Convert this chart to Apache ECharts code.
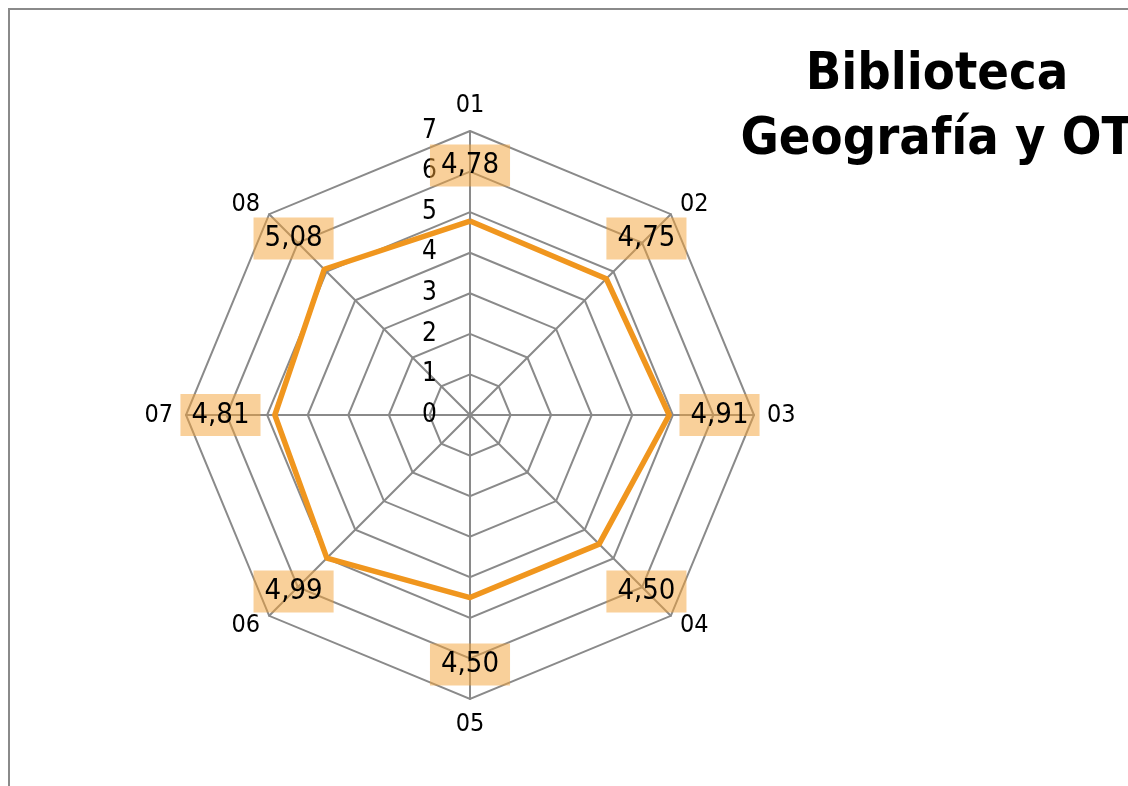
<!DOCTYPE html>
<html>
<head>
<meta charset="utf-8">
<script src="https://cdn.jsdelivr.net/npm/echarts@6/dist/echarts.min.js"></script>
<style>
html,body{margin:0;padding:0;background:#fff;}
#chart{width:1128px;height:786px;}
</style>
</head>
<body>
<div id="chart"></div>
<script>
var categories = ['01', '02', '03', '04', '05', '06', '07', '08'];
var values = [4.78, 4.75, 4.91, 4.50, 4.50, 4.99, 4.81, 5.08];
var tickLabels = ['0', '1', '2', '3', '4', '5', '6', '7'];
var axisMax = 7;
var titleText = 'Biblioteca\nGeografía y OT';
var LABEL_R = 6.15;

// ECharts places indicators counter-clockwise; reorder to go clockwise from top
var order = [0];
for (var i = categories.length - 1; i >= 1; i--) order.push(i);
var ordCats = order.map(function (i) { return categories[i]; });
var ordVals = order.map(function (i) { return values[i]; });

var FONT = '"DejaVu Sans Condensed", "DejaVu Sans", sans-serif';

var indicator = ordCats.map(function (c, k) {
  var ind = { name: c, max: axisMax, min: 0 };
  if (k === 0) {
    ind.axisLabel = {
      show: true,
      color: '#000',
      fontFamily: FONT,
      fontSize: 26,
      margin: 33,
      formatter: function (v) { return tickLabels[Math.round(v)] || ''; }
    };
  }
  return ind;
});

var chart = echarts.init(document.getElementById('chart'));
chart.setOption({
  backgroundColor: '#fff',
  animation: false,
  title: {
    text: titleText,
    left: 932,
    top: 38,
    textAlign: 'center',
    textStyle: {
      fontFamily: FONT,
      fontSize: 52,
      fontWeight: 'bold',
      color: '#000',
      lineHeight: 65,
      align: 'center'
    }
  },
  graphic: [{
    type: 'rect',
    shape: { x: 9, y: 9, width: 1300, height: 900 },
    style: { fill: 'none', stroke: '#8a8a8a', lineWidth: 2 },
    silent: true,
    z: -1
  }],
  radar: {
    center: [470, 415],
    radius: 284,
    startAngle: 90,
    shape: 'polygon',
    splitNumber: 7,
    indicator: indicator,
    axisName: {
      color: '#000',
      fontFamily: FONT,
      fontSize: 25
    },
    nameGap: 13,
    splitArea: { show: false },
    splitLine: { lineStyle: { color: '#8a8a8a', width: 2 } },
    axisLine: { lineStyle: { color: '#8a8a8a', width: 2 } },
    axisTick: { show: false },
    axisLabel: { show: false }
  },
  series: [{
    type: 'radar',
    symbol: 'none',
    z: 3,
    data: [{
      value: ordVals,
      lineStyle: { color: '#F0961E', width: 5.5 },
      itemStyle: { color: '#F0961E' },
      areaStyle: null
    }]
  }, {
    type: 'radar',
    z: 4,
    symbol: 'circle',
    symbolSize: 1,
    silent: true,
    data: [{
      value: ordVals.map(function () { return LABEL_R; }),
      lineStyle: { opacity: 0, width: 0 },
      itemStyle: { color: 'rgba(0,0,0,0)' },
      label: {
        show: true,
        position: 'inside',
        color: '#000',
        fontFamily: FONT,
        fontSize: 29,
        backgroundColor: 'rgba(243,161,53,0.5)',
        padding: [7, 11, 6, 11],
        formatter: function (p) {
          var idx = p.dimensionIndex;
          if (idx == null) return '';
          return ordVals[idx].toFixed(2).replace('.', ',');
        }
      }
    }]
  }]
});
</script>
</body>
</html>
